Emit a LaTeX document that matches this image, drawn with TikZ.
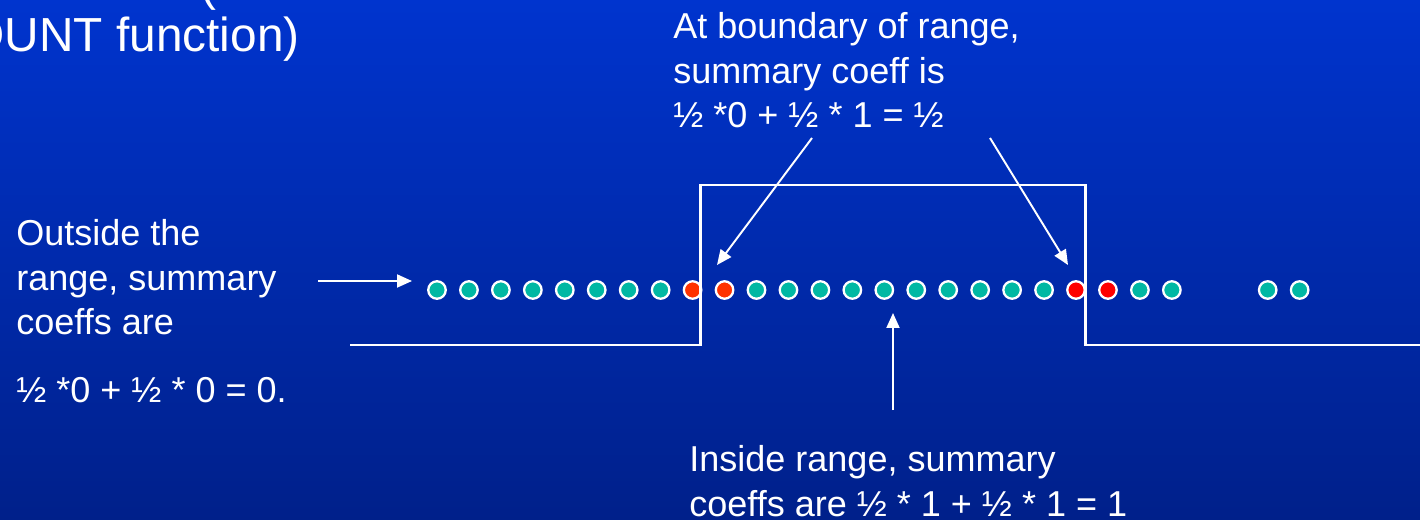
\documentclass[tikz,border=0pt]{standalone}
\usepackage{fontspec}
\setmainfont{Liberation Sans}
\usetikzlibrary{arrows.meta}
\definecolor{slidetop}{RGB}{0,52,206}
\definecolor{slidebot}{RGB}{0,32,138}
\definecolor{coefteal}{RGB}{0,184,163}
\definecolor{coeforange}{RGB}{255,51,0}
\definecolor{coefred}{RGB}{255,0,0}
\tikzset{
  coef/.style={circle,draw=white,line width=1.3pt,fill=coefteal,minimum size=0.35cm,inner sep=0pt},
  note/.style={text=white,font=\fontsize{20.5}{25.6}\selectfont,align=left,anchor=base west,inner sep=0pt},
  ptr/.style={white,line width=1.1pt,-{Triangle[width=0.26cm,length=0.3cm]}},
}
\begin{document}
\begin{tikzpicture}[x=0.02cm,y=-0.02cm]
  \useasboundingbox (0,0) rectangle (1420,520);
  \shade[top color=slidetop,bottom color=slidebot] (0,0) rectangle (1420,520);
  % title lines, cut by the page edge
  \node[note,font=\fontsize{27.2}{30}\selectfont,anchor=base east] (titleup) at (217,1) {(};
  \node[note,font=\fontsize{27.2}{30}\selectfont,anchor=base east] (title) at (300,52) {OUNT function)};
  % coefficients
  \foreach \i in {0,...,7,10,11,...,19,22,23,26,27} \node[coef] (d\i) at (437+31.95*\i,290) {};
  \foreach \i in {8,9} \node[coef,fill=coeforange] (d\i) at (437+31.95*\i,290) {};
  \foreach \i in {20,21} \node[coef,fill=coefred] (d\i) at (437+31.95*\i,290) {};
  % step function
  \coordinate (s0) at (350,345); \coordinate (s1) at (700,345); \coordinate (s2) at (700,185);
  \coordinate (s3) at (1085,185); \coordinate (s4) at (1085,345); \coordinate (s5) at (1420,345);
  \draw[white,line width=1.7pt] (s0) -- (s1) -- (s2) -- (s3) -- (s4) -- (s5);
  % texts (base = last line)
  \node[note] (outside) at (16,335) {Outside the\\range, summary\\coeffs are};
  \node[note] (outsidesum) at (16,402) {½ *0 + ½ * 0 = 0.};
  \node[note] (boundary) at (673,128) {At boundary of range,\\summary coeff is\\½ *0 + ½ * 1 = ½};
  \node[note] (inside) at (689,516) {Inside range, summary\\coeffs are ½ * 1 + ½ * 1 = 1};
  % pointers
  \coordinate (lt0) at (318,281); \coordinate (lt1) at (412,281);
  \coordinate (bl0) at (812,138); \coordinate (bl1) at (717,265);
  \coordinate (br0) at (990,138); \coordinate (br1) at (1068,265);
  \coordinate (up0) at (893,410); \coordinate (up1) at (893,313);
  \foreach \a in {lt,bl,br,up} \draw[ptr] (\a0) -- (\a1);
\end{tikzpicture}
\end{document}
